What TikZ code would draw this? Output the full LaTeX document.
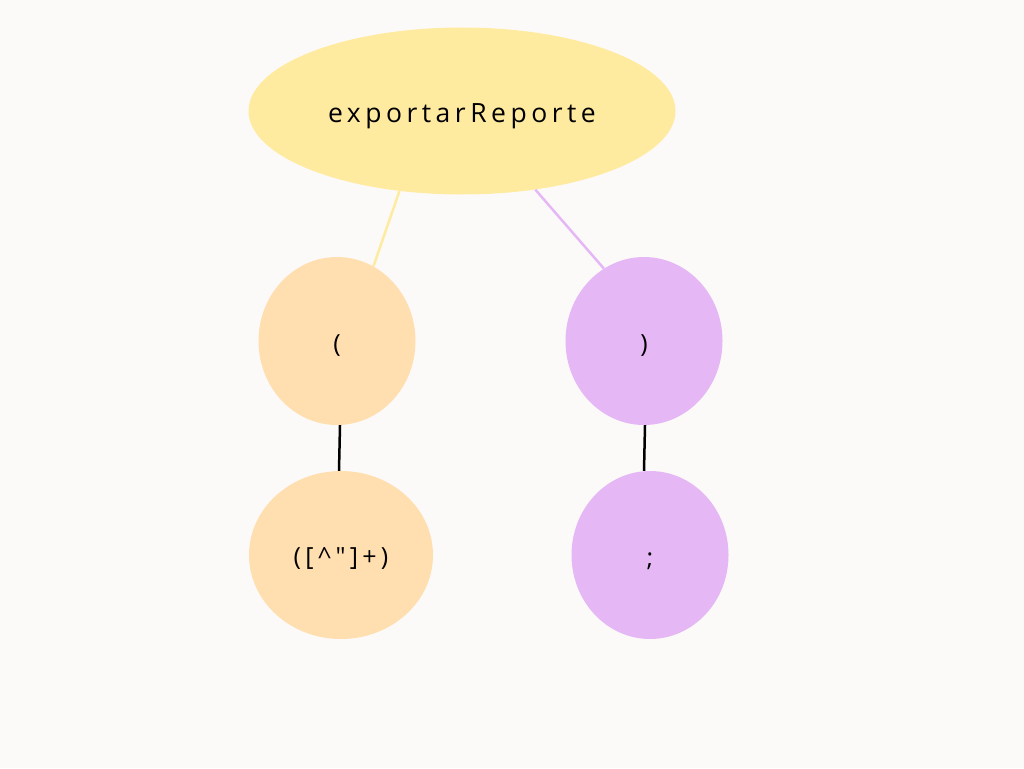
\documentclass[tikz,border=0pt]{standalone}
\usepackage{fontspec}
\setmainfont{Open Sans}
\newfontfamily\spaced[LetterSpace=17]{Open Sans}
\usetikzlibrary{shapes.geometric}
\definecolor{bgc}{HTML}{FCFAF9}
\definecolor{yel}{HTML}{FFEBA0}
\definecolor{org}{HTML}{FFDFB0}
\definecolor{pur}{HTML}{E5B8F5}
\tikzset{
  blob/.style={ellipse, inner sep=0pt, text=black, text height=23pt, text depth=0pt,
    font=\spaced\fontsize{25}{30}\selectfont},
  edge/.style={line width=2.5pt},
}
\begin{document}
\begin{tikzpicture}[x=1pt,y=-1pt]
\fill[bgc] (0,0) rectangle (1024,768);
\useasboundingbox (0,0) rectangle (1024,768);
\node[blob, fill=yel, minimum width=427pt, minimum height=167pt, font=\spaced\fontsize{26.5}{30}\selectfont] (root) at (462,111) {exportarReporte};
\node[blob, fill=org, minimum width=157pt, minimum height=168pt] (lp) at (337,341) {(};
\node[blob, fill=pur, minimum width=157pt, minimum height=168pt] (rp) at (644,341) {)};
\node[blob, fill=org, minimum width=184pt, minimum height=168pt, text height=20pt] (lrx) at (341,555) {([\textasciicircum"]+)};
\node[blob, fill=pur, minimum width=157pt, minimum height=168pt] (semi) at (650,555) {;};
\draw[edge, yel] (root.232) -- (lp.64);
\draw[edge, pur] (root.313) -- (rp.119);
\draw[edge, black] ([xshift=3pt]lp.south) -- ([xshift=-2pt]lrx.north);
\draw[edge, black] ([xshift=1pt]rp.south) -- ([xshift=-6pt]semi.north);
\end{tikzpicture}
\end{document}
